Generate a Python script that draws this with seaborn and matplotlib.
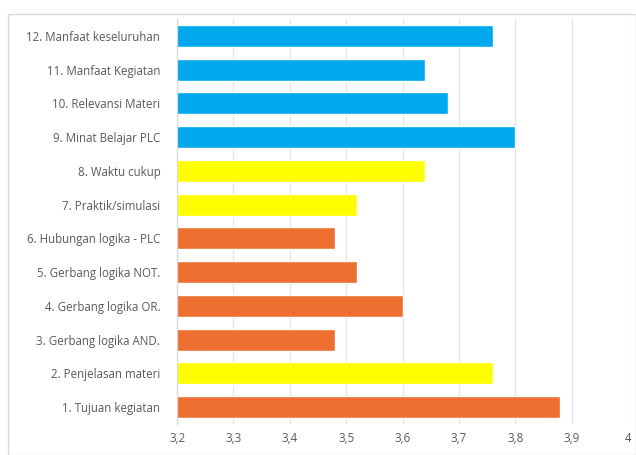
import matplotlib

matplotlib.use("Agg")

import matplotlib.pyplot as plt
import pandas as pd
import seaborn as sns
from matplotlib.patches import Rectangle


# -------------------------------------------------
# Data (top to bottom as drawn)
# -------------------------------------------------

labels = [
    "12. Manfaat keseluruhan",
    "11. Manfaat Kegiatan",
    "10. Relevansi Materi",
    "9. Minat Belajar PLC",
    "8. Waktu cukup",
    "7. Praktik/simulasi",
    "6. Hubungan logika - PLC",
    "5. Gerbang logika NOT.",
    "4. Gerbang logika OR.",
    "3. Gerbang logika AND.",
    "2. Penjelasan materi",
    "1. Tujuan kegiatan",
]

scores = [3.76, 3.64, 3.68, 3.80, 3.64, 3.52, 3.48, 3.52, 3.60, 3.48, 3.76, 3.88]

groups = [
    "blue", "blue", "blue", "blue",
    "yellow", "yellow",
    "orange", "orange", "orange", "orange",
    "yellow",
    "orange",
]

tick_values = [3.2, 3.3, 3.4, 3.5, 3.6, 3.7, 3.8, 3.9, 4.0]
tick_labels = ["3,2", "3,3", "3,4", "3,5", "3,6", "3,7", "3,8", "3,9", "4"]

group_colors = {
    "blue": "#00A8EE",
    "yellow": "#FFFF00",
    "orange": "#ED7030",
}

df = pd.DataFrame({
    "label": labels,
    "score": scores,
    "group": groups,
})


# -------------------------------------------------
# Plot
# -------------------------------------------------

sns.set_style("white")
plt.rcParams["font.family"] = ["Open Sans", "DejaVu Sans"]

fig = plt.figure(figsize=(6.36, 4.55), dpi=100)

# outer chart frame
fig.patches.append(
    Rectangle(
        (8 / 636, 0.0),
        1 - 8 / 636,
        1 - 14 / 455,
        transform=fig.transFigure,
        fill=False,
        edgecolor="#D9D9D9",
        linewidth=1.0,
    )
)

ax = fig.add_axes([177 / 636, 31 / 455, 451 / 636, 405 / 455])

sns.barplot(
    data=df,
    x="score",
    y="label",
    hue="group",
    palette=group_colors,
    saturation=1,
    orient="h",
    dodge=False,
    legend=False,
    width=0.65,
    ax=ax,
)

ax.set_xlim(3.2, 4.0)
ax.set_ylim(11.5, -0.5)

ax.set_xticks(tick_values)
ax.set_xticklabels(tick_labels)

ax.grid(axis="x", color="#E3E3E3", linewidth=0.9)
ax.set_axisbelow(True)

for side in ["top", "right", "bottom"]:
    ax.spines[side].set_visible(False)

ax.spines["left"].set_color("#D9D9D9")
ax.spines["left"].set_linewidth(0.9)

ax.tick_params(axis="both", length=0, labelsize=8.3, labelcolor="#595959")
ax.tick_params(axis="y", pad=12)
ax.tick_params(axis="x", pad=6)

ax.set_xlabel("")
ax.set_ylabel("")

plt.savefig("out.png", dpi=100)
plt.close()
